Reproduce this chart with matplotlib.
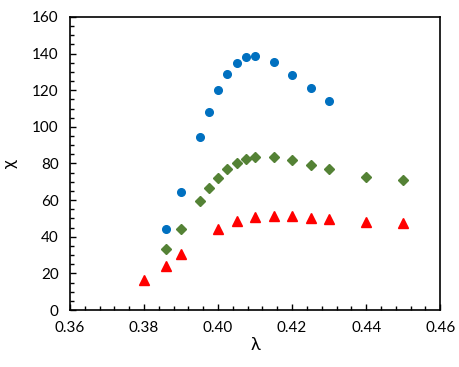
import matplotlib.pyplot as plt
from matplotlib.ticker import MultipleLocator

plt.rcParams['font.family'] = ['Lato', 'DejaVu Sans']

# Data
lam_blue = [0.386, 0.39, 0.395, 0.3975, 0.40, 0.4025, 0.405, 0.4075, 0.41, 0.415, 0.42, 0.425, 0.43]
chi_blue = [44.1, 64.4, 94.3, 108.1, 120.0, 129.0, 135.1, 138.2, 138.9, 135.4, 128.5, 121.1, 114.1]

lam_green = [0.386, 0.39, 0.395, 0.3975, 0.40, 0.4025, 0.405, 0.4075, 0.41, 0.415, 0.42, 0.425, 0.43, 0.44, 0.45]
chi_green = [33.1, 44.4, 59.7, 66.5, 72.3, 76.8, 80.3, 82.3, 83.6, 83.6, 81.7, 79.4, 76.8, 72.8, 70.8]

lam_red = [0.38, 0.386, 0.39, 0.40, 0.405, 0.41, 0.415, 0.42, 0.425, 0.43, 0.44, 0.45]
chi_red = [16.2, 24.0, 30.6, 44.4, 48.8, 50.8, 51.5, 51.2, 50.2, 49.5, 48.1, 47.7]

fig = plt.figure(figsize=(4.6, 3.67), dpi=100)
ax = fig.add_axes([0.152, 0.155, 0.805, 0.799])

ax.plot(lam_red, chi_red, linestyle='none', marker='^', color='#FF0000', markersize=7)
ax.plot(lam_green, chi_green, linestyle='none', marker='D', color='#548235', markersize=5)
ax.plot(lam_blue, chi_blue, linestyle='none', marker='o', color='#0070C0', markersize=5.5)

ax.set_xlim(0.36, 0.46)
ax.set_ylim(0, 160)
ax.xaxis.set_major_locator(MultipleLocator(0.02))
ax.xaxis.set_minor_locator(MultipleLocator(0.004))
ax.yaxis.set_major_locator(MultipleLocator(20))
ax.yaxis.set_minor_locator(MultipleLocator(5))
ax.xaxis.set_major_formatter(plt.FuncFormatter(lambda v, p: f'{v:.2f}'))

ax.tick_params(which='both', direction='in', labelsize=11, color='black')
ax.tick_params(which='major', length=4, width=1)
ax.tick_params(which='minor', length=3, width=1)
ax.tick_params(axis='y', which='major', pad=8)
ax.tick_params(axis='x', which='major', pad=8)
for s in ax.spines.values():
    s.set_linewidth(1.2)

ax.set_xlabel('λ', fontsize=13, labelpad=1)
ax.set_ylabel('χ', fontsize=13, labelpad=10)

fig.savefig('out.png', dpi=100)
